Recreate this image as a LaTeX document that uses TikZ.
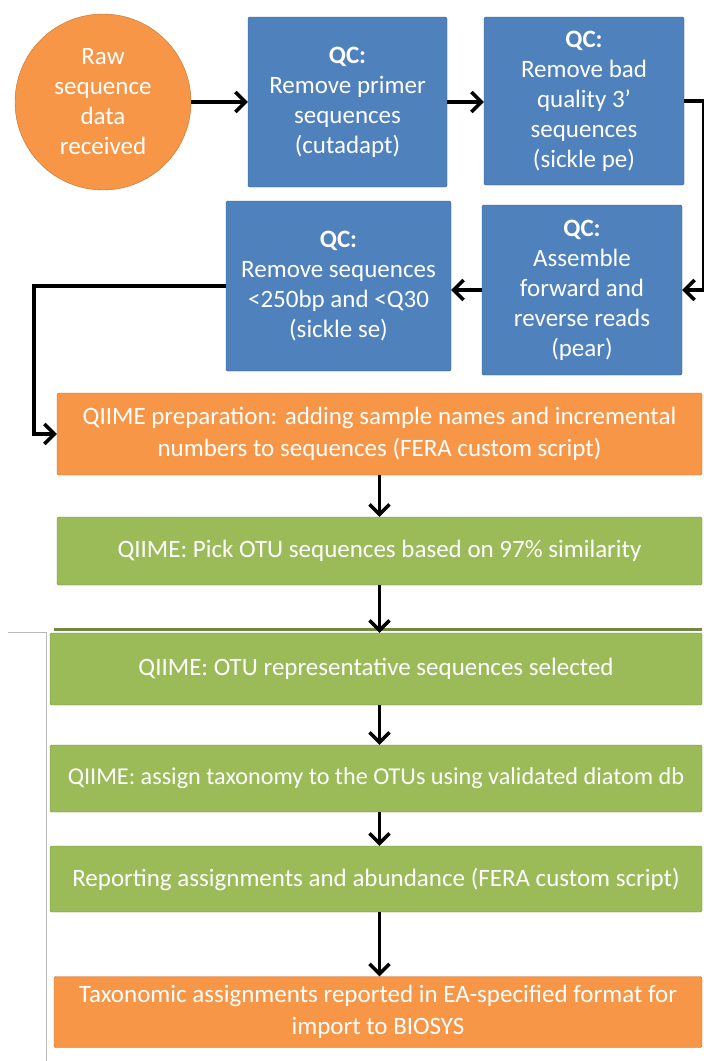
\documentclass[tikz,border=0pt]{standalone}
\usepackage{fontspec}
\setmainfont{Carlito}
\usepackage{tikz}
\usetikzlibrary{arrows.meta,positioning,calc}
\definecolor{qcblue}{RGB}{79,129,189}
\definecolor{qcblueline}{RGB}{56,93,138}
\definecolor{rawor}{RGB}{247,150,70}
\definecolor{raworline}{RGB}{196,112,52}
\definecolor{otugreen}{RGB}{155,187,89}
\definecolor{otugreenline}{RGB}{113,137,63}
\tikzstyle{qcbox} = [rectangle, draw=qcblueline, fill=qcblue, text=white, align=center, inner sep=0pt, rounded corners=1.5pt, font=\fontsize{25}{30}\selectfont]
\tikzstyle{orbox} = [qcbox, draw=raworline, fill=rawor]
\tikzstyle{grbox} = [qcbox, draw=otugreenline, fill=otugreen]
\tikzstyle{wide} = [font=\fontsize{25}{32.5}\selectfont]
\tikzstyle{flow} = [line width=3.5pt]

\begin{document}
\begin{tikzpicture}[x=1pt,y=-1pt,>={Straight Barb[length=10pt,width=20pt]}]
  \useasboundingbox (0,0) rectangle (704,1061);
  % QC steps
  \node[orbox, circle, minimum size=176pt] (raw) at (103,102) {Raw\\sequence\\data\\received};
  \node[qcbox, minimum width=199pt, minimum height=170pt] (primer) at (347.5,102) {\textbf{QC:}\\Remove primer\\sequences\\(cutadapt)};
  \node[qcbox, minimum width=200pt, minimum height=168pt] (trim) at (584,101) {\textbf{QC:}\\Remove bad\\quality 3’\\sequences\\(sickle pe)};
  \node[qcbox, minimum width=200pt, minimum height=170pt] (assemble) at (582,290) {\textbf{QC:}\\Assemble\\forward and\\reverse reads\\(pear)};
  \node[qcbox, minimum width=225pt, minimum height=170pt] (filter) at (338.5,286) {\textbf{QC:}\\Remove sequences\\<250bp and <Q30\\(sickle se)};
  % QIIME steps
  \node[orbox, wide, minimum width=645pt, minimum height=82pt] (prep) at (379.5,434) {QIIME preparation: adding sample names and incremental\\numbers to sequences (FERA custom script)};
  \node[grbox, wide, minimum width=645pt, minimum height=68pt] (pick) at (379.5,551) {QIIME: Pick OTU sequences based on 97\% similarity};
  \fill[otugreenline] (54,628) rectangle (702,631);
  \node[grbox, wide, minimum width=652pt, minimum height=72pt] (rep) at (376,669) {QIIME: OTU representative sequences selected};
  \node[grbox, wide, minimum width=652pt, minimum height=67pt, font=\fontsize{24.2}{30}\selectfont] (assign) at (376,778.5) {QIIME: assign taxonomy to the OTUs using validated diatom db};
  \node[grbox, wide, minimum width=652pt, minimum height=66pt] (report) at (376,879) {Reporting assignments and abundance (FERA custom script)};
  \node[orbox, wide, minimum width=648pt, minimum height=71pt] (final) at (378,1012) {Taxonomic assignments reported in EA-specified format for\\import to BIOSYS};
  \draw[gray!55, line width=0.8pt] (8,632) -- (46,632) -- (46,1061);
  % connectors
  \draw[flow,->] (raw) -- (primer);
  \draw[flow,->] (primer.east) -- (primer.east -| trim.west);
  \draw[flow,->] (trim.east) -- ++(19.5,0) |- (assemble.east);
  \draw[flow,->] (assemble.west) -- (assemble.west -| filter.east);
  \draw[flow,->] (filter.west) -- ++(-192,0) |- (prep.west);
  \draw[flow,->] (prep.south -| pick.north) -- (pick.north);
  \draw[flow,->] (pick.south) -- (pick.south |- rep.north);
  \draw[flow,->] (pick.south |- rep.south) -- (pick.south |- assign.north);
  \draw[flow,->] (pick.south |- assign.south) -- (pick.south |- report.north);
  \draw[flow,->] (pick.south |- report.south) -- (pick.south |- final.north);
\end{tikzpicture}
\end{document}
